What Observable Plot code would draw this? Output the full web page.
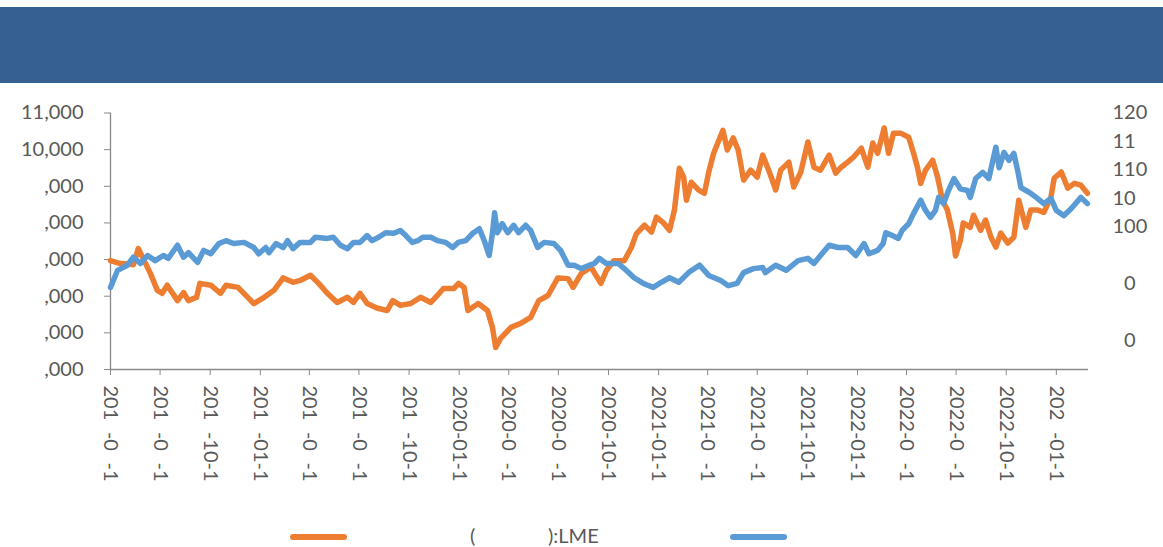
<!DOCTYPE html>
<html><head><meta charset="utf-8">
<script src="https://cdn.jsdelivr.net/npm/d3@7"></script>
<script src="https://cdn.jsdelivr.net/npm/@observablehq/plot@0.6"></script>
<style>
body{margin:0;background:#fff;width:1163px;height:547px;overflow:hidden;font-family:Lato,sans-serif;position:relative;}
#header{position:absolute;left:0;top:7px;width:1163px;height:76px;background:#36608F;}
#chart{position:absolute;left:0;top:83px;}
#legend{position:absolute;left:0;top:513px;width:1163px;height:34px;font:20px Lato,sans-serif;color:#595959;}
#legend .sw{position:absolute;top:21px;height:6px;border-radius:3px;width:57px;}
#legend .tx{position:absolute;top:10px;line-height:24px;white-space:pre;}
</style></head>
<body>
<div id="header"></div>
<div id="chart"></div>
<div id="legend">
  <div class="sw" style="left:290px;background:#ED7D31"></div>
  <div class="tx" style="left:470px">(</div>
  <div class="tx" style="left:548px">):LME</div>
  <div class="sw" style="left:730px;background:#5B9BD5"></div>
</div>
<script>
// Left axis: LME copper price
const copperDates = ["2018-04-16","2018-05-04","2018-05-19","2018-05-28","2018-06-06","2018-06-28","2018-07-11","2018-07-20","2018-07-29","2018-08-17","2018-08-28","2018-09-06","2018-09-21","2018-09-27","2018-10-17","2018-11-04","2018-11-14","2018-12-06","2018-12-24","2019-01-04","2019-01-23","2019-02-10","2019-02-27","2019-03-17","2019-03-30","2019-04-18","2019-05-03","2019-05-19","2019-06-06","2019-06-25","2019-07-06","2019-07-18","2019-07-31","2019-08-19","2019-09-06","2019-09-16","2019-09-30","2019-10-19","2019-11-06","2019-11-25","2019-12-07","2019-12-18","2020-01-06","2020-01-15","2020-01-25","2020-02-01","2020-02-20","2020-03-08","2020-03-17","2020-03-23","2020-04-01","2020-04-20","2020-05-08","2020-05-26","2020-06-10","2020-06-27","2020-07-15","2020-08-03","2020-08-12","2020-08-27","2020-09-14","2020-10-02","2020-10-12","2020-10-26","2020-11-14","2020-11-27","2020-12-06","2020-12-21","2021-01-03","2021-01-12","2021-01-25","2021-02-05","2021-02-14","2021-02-23","2021-03-03","2021-03-08","2021-03-17","2021-03-30","2021-04-10","2021-04-18","2021-04-27","2021-05-14","2021-05-22","2021-06-02","2021-06-11","2021-06-21","2021-07-04","2021-07-16","2021-07-26","2021-08-06","2021-08-19","2021-08-28","2021-09-12","2021-09-21","2021-10-04","2021-10-17","2021-10-28","2021-11-09","2021-11-25","2021-12-07","2021-12-17","2021-12-29","2022-01-09","2022-01-23","2022-02-04","2022-02-13","2022-02-22","2022-03-06","2022-03-14","2022-03-23","2022-04-05","2022-04-20","2022-04-29","2022-05-06","2022-05-12","2022-05-21","2022-06-03","2022-06-12","2022-06-21","2022-06-30","2022-07-10","2022-07-15","2022-07-24","2022-07-29","2022-08-11","2022-08-17","2022-08-30","2022-09-08","2022-09-18","2022-09-27","2022-10-06","2022-10-19","2022-10-30","2022-11-08","2022-11-21","2022-11-30","2022-12-13","2022-12-24","2023-01-06","2023-01-12","2023-01-25","2023-02-06","2023-02-18","2023-03-02","2023-03-14"];
const copperValues = [6970,6890,6880,6860,7300,6630,6160,6080,6300,5880,6100,5880,5970,6350,6300,6080,6300,6240,5970,5800,5970,6160,6500,6380,6430,6570,6350,6080,5830,5970,5830,6080,5800,5670,5610,5880,5750,5800,5970,5830,6020,6210,6210,6350,6240,5610,5800,5610,5150,4600,4850,5150,5260,5420,5880,6020,6500,6480,6240,6620,6790,6350,6700,6970,6970,7330,7700,7940,7750,8160,8000,7800,8350,9490,9250,8620,9110,8900,8810,9390,9900,10530,9990,10320,9990,9170,9440,9250,9850,9440,8900,9440,9660,8980,9390,10210,9520,9440,9850,9360,9520,9660,9800,10040,9520,10180,9900,10590,9900,10450,10450,10340,9900,9520,9080,9440,9710,9250,8620,8350,7700,7100,7530,8000,7880,8210,7800,8080,7610,7340,7720,7450,7610,8620,7880,8350,8350,8290,8700,9220,9390,8950,9080,9030,8810];
// Right axis: index
const indexDates = ["2018-04-16","2018-04-29","2018-05-17","2018-05-28","2018-06-10","2018-06-23","2018-07-07","2018-07-22","2018-07-31","2018-08-17","2018-08-28","2018-09-06","2018-09-23","2018-10-04","2018-10-17","2018-11-01","2018-11-14","2018-11-28","2018-12-17","2019-01-04","2019-01-13","2019-01-26","2019-02-01","2019-02-14","2019-02-27","2019-03-07","2019-03-17","2019-03-30","2019-04-18","2019-04-27","2019-05-19","2019-05-30","2019-06-12","2019-06-25","2019-07-06","2019-07-18","2019-07-31","2019-08-09","2019-08-21","2019-09-03","2019-09-18","2019-09-30","2019-10-10","2019-10-22","2019-11-01","2019-11-10","2019-11-25","2019-12-07","2019-12-22","2020-01-04","2020-01-14","2020-01-28","2020-02-10","2020-02-22","2020-03-02","2020-03-11","2020-03-17","2020-03-21","2020-03-26","2020-04-04","2020-04-14","2020-04-25","2020-05-04","2020-05-17","2020-05-26","2020-06-08","2020-06-20","2020-07-08","2020-07-20","2020-08-03","2020-08-14","2020-08-27","2020-09-11","2020-09-20","2020-09-29","2020-10-12","2020-11-03","2020-11-14","2020-12-02","2020-12-19","2021-01-06","2021-01-21","2021-02-05","2021-02-22","2021-03-12","2021-04-01","2021-04-18","2021-05-10","2021-05-24","2021-06-09","2021-06-21","2021-07-09","2021-07-26","2021-07-31","2021-08-19","2021-09-07","2021-09-29","2021-10-17","2021-10-28","2021-11-09","2021-11-25","2021-12-11","2021-12-29","2022-01-13","2022-01-28","2022-02-06","2022-02-22","2022-03-04","2022-03-09","2022-03-21","2022-04-01","2022-04-08","2022-04-20","2022-04-29","2022-05-12","2022-05-21","2022-05-30","2022-06-08","2022-06-14","2022-06-23","2022-07-02","2022-07-12","2022-07-24","2022-08-06","2022-08-11","2022-08-21","2022-09-03","2022-09-14","2022-09-27","2022-10-03","2022-10-12","2022-10-21","2022-10-30","2022-11-06","2022-11-12","2022-11-27","2022-12-10","2022-12-24","2023-01-06","2023-01-16","2023-01-30","2023-02-12","2023-03-02","2023-03-14"];
const indexValues = [89.4,92.4,93.3,94.7,93.6,95.0,94.1,95.0,94.5,96.8,94.7,95.5,93.8,95.9,95.3,97.1,97.6,97.1,97.3,96.4,95.3,96.4,95.5,97.1,96.4,97.6,96.2,97.3,97.3,98.2,98.0,98.2,96.8,96.2,97.3,97.3,98.5,97.6,98.2,99.0,98.9,99.4,98.5,97.3,97.6,98.2,98.2,97.6,97.3,96.4,97.3,97.6,98.9,99.7,97.6,95.0,98.9,102.5,99.0,100.6,99.0,100.3,99.0,100.3,99.4,96.4,97.3,97.1,95.9,93.3,93.3,92.7,93.3,93.6,94.5,93.6,93.6,92.7,91.1,90.1,89.4,90.3,91.1,90.3,92.0,93.3,91.5,90.6,89.7,90.1,92.0,92.7,92.9,92.0,93.3,92.4,94.1,94.5,93.6,95.0,96.8,96.4,96.4,95.0,97.1,95.3,95.9,97.1,99.0,98.5,98.0,99.4,100.6,102.4,104.7,102.9,101.7,102.9,105.2,104.1,106.4,108.5,106.7,106.4,105.2,108.5,109.6,108.5,114.0,110.4,113.1,111.7,112.9,109.9,106.9,106.1,105.2,104.1,105.0,102.9,102.0,103.2,105.2,104.1];

const xDomain = ["2018-04-16","2023-03-16"];
const xTicks = ["2018-04-16","2018-07-16","2018-10-16","2019-01-16","2019-04-16","2019-07-16","2019-10-16","2020-01-16","2020-04-16","2020-07-16","2020-10-16","2021-01-16","2021-04-16","2021-07-16","2021-10-16","2022-01-16","2022-04-16","2022-07-16","2022-10-16","2023-01-16"];
const xLabels = ["201\u2007-0\u2007-1","201\u2007-0\u2007-1","201\u2007-10-1","201\u2007-01-1","201\u2007-0\u2007-1","201\u2007-0\u2007-1","201\u2007-10-1","2020-01-1","2020-0\u2007-1","2020-0\u2007-1","2020-10-1","2021-01-1","2021-0\u2007-1","2021-0\u2007-1","2021-10-1","2022-01-1","2022-0\u2007-1","2022-0\u2007-1","2022-10-1","202\u2007-01-1"];
const leftTicks = [4000,5000,6000,7000,8000,9000,10000,11000];
const leftLabels = [",000",",000",",000",",000",",000",",000","10,000","11,000"];
const rightTicks = [75,80,85,90,95,100,105,110,115,120];
const rightLabels = ["","\u20070","","\u20070","","100","10","110","11","120"];

const toLeft = d3.scaleLinear().domain([75,120]).range([4000,11000]);
const copper = copperDates.map((d,i)=>({date:new Date(d), v:copperValues[i]}));
const index = indexDates.map((d,i)=>({date:new Date(d), v:toLeft(indexValues[i])}));
const xt = xTicks.map(d=>new Date(d));
const rt = rightTicks.map(v=>toLeft(v));

const axisColor = "#898989";
const chart = Plot.plot({
  width:1163, height:430,
  marginLeft:110, marginRight:75, marginTop:29.5, marginBottom:144,
  style:{fontFamily:"Lato, sans-serif", fontSize:"20px", color:"#595959", background:"transparent"},
  x:{type:"time", domain:xDomain.map(d=>new Date(d)), label:null},
  y:{domain:[4000,11000], label:null},
  marks:[
    Plot.axisY(leftTicks, {anchor:"left", label:null, tickSize:6, tickPadding:21, stroke:axisColor, tickFormat:d=>leftLabels[leftTicks.indexOf(d)]}),
    Plot.axisY(rt, {anchor:"right", label:null, tickSize:0, tickPadding:24, tickFormat:d=>rightLabels[rt.indexOf(d)]}),
    Plot.axisX(xt, {anchor:"bottom", label:null, tickSize:6, tickPadding:10, tickRotate:90, stroke:axisColor, tickFormat:d=>xLabels[xt.findIndex(t=>+t===+d)]}),
    Plot.ruleX([new Date(xDomain[0])], {stroke:axisColor, strokeWidth:1.3}),
    Plot.ruleY([4000], {stroke:axisColor, strokeWidth:1.3}),
    Plot.line(copper, {x:"date", y:"v", stroke:"#ED7D31", strokeWidth:5.5, strokeLinejoin:"round", strokeLinecap:"round"}),
    Plot.line(index, {x:"date", y:"v", stroke:"#5B9BD5", strokeWidth:5.5, strokeLinejoin:"round", strokeLinecap:"round"})
  ]
});
document.getElementById("chart").appendChild(chart);
</script>
</body></html>
